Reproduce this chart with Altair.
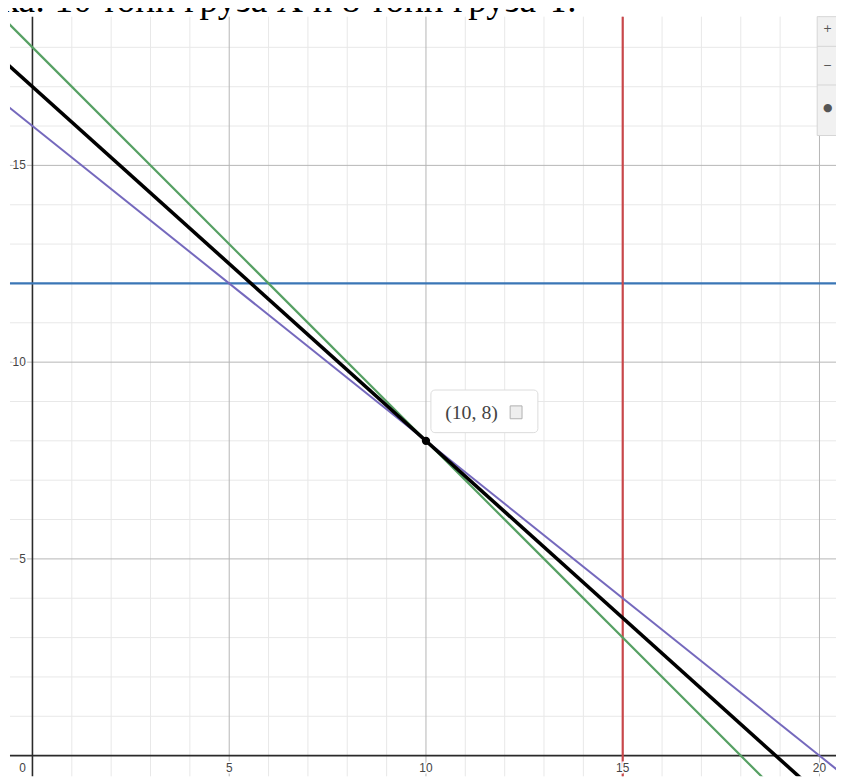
import altair as alt
import pandas as pd

# ---- data ----
minor_x = [1, 2, 3, 4, 6, 7, 8, 9, 11, 12, 13, 14, 16, 17, 18, 19]
minor_y = [1, 2, 3, 4, 6, 7, 8, 9, 11, 12, 13, 14, 16, 17, 18]
major_x = [5, 10, 15, 20]
major_y = [5, 10, 15]
x_tick_values = [0, 5, 10, 15, 20]
x_tick_labels = ["0", "5", "10", "15", "20"]
y_tick_values = [5, 10, 15]
y_tick_labels = ["5", "10", "15"]

line_names = ["green", "purple", "black"]
line_x_start = [-1, -1, -1]
line_y_start = [19.0, 16.8, 17.9]
line_x_end = [21, 21, 21]
line_y_end = [-3.0, -0.8, -1.9]
line_colors = ["#56a063", "#7569bd", "#000000"]
line_widths = [2.2, 2.0, 3.6]

hline_y = [12]
vline_x = [15]

point_x = [10]
point_y = [8]
point_label = ["(10, 8)"]

header_text = "ка: 10 тонн груза X и 8 тонн груза Y."

# ---- layout ----
XMIN, XMAX = -0.571, 20.42
YMIN, YMAX = -0.525, 18.78
W, H = 834, 767

xs = alt.Scale(domain=[XMIN, XMAX], nice=False, zero=False)
ys = alt.Scale(domain=[YMIN, YMAX], nice=False, zero=False)


def X(f):
    return alt.X(f, type="quantitative", scale=xs, axis=None)


def Y(f):
    return alt.Y(f, type="quantitative", scale=ys, axis=None)


layers = []

# grid
layers.append(alt.Chart(pd.DataFrame({"x": minor_x})).mark_rule(color="#e8e8e8", strokeWidth=1).encode(x=X("x")))
layers.append(alt.Chart(pd.DataFrame({"y": minor_y})).mark_rule(color="#e8e8e8", strokeWidth=1).encode(y=Y("y")))
layers.append(alt.Chart(pd.DataFrame({"x": major_x})).mark_rule(color="#b5b5b5", strokeWidth=1).encode(x=X("x")))
layers.append(alt.Chart(pd.DataFrame({"y": major_y})).mark_rule(color="#b5b5b5", strokeWidth=1).encode(y=Y("y")))
# axes
layers.append(alt.Chart(pd.DataFrame({"x": [0]})).mark_rule(color="#2a2a2a", strokeWidth=1.6).encode(x=X("x")))
layers.append(alt.Chart(pd.DataFrame({"y": [0]})).mark_rule(color="#2a2a2a", strokeWidth=1.6).encode(y=Y("y")))

# constraint lines
layers.append(alt.Chart(pd.DataFrame({"y": hline_y})).mark_rule(color="#3a76b6", strokeWidth=2.2).encode(y=Y("y")))
layers.append(alt.Chart(pd.DataFrame({"x": vline_x})).mark_rule(color="#c9474a", strokeWidth=2.2).encode(x=X("x")))

for name, xa, ya, xb, yb, col, sw in zip(line_names, line_x_start, line_y_start, line_x_end, line_y_end,
                                         line_colors, line_widths):
    df = pd.DataFrame({"x": [xa, xb], "y": [ya, yb]})
    layers.append(alt.Chart(df).mark_line(color=col, strokeWidth=sw, clip=True).encode(x=X("x"), y=Y("y")))

pts = pd.DataFrame({"x": point_x, "y": point_y, "label": point_label})
layers.append(alt.Chart(pts).mark_circle(color="#000000", size=70, opacity=1).encode(x=X("x"), y=Y("y")))

# label box
layers.append(alt.Chart(pts).mark_rect(fill="#ffffff", stroke="#dcdcdc", strokeWidth=1, cornerRadius=4).encode(
    x=alt.value(425), x2=alt.value(533), y=alt.value(377), y2=alt.value(420)))
layers.append(alt.Chart(pts).mark_text(font="Liberation Serif", fontSize=20, color="#444444", align="center",
                                       baseline="middle", dx=46, dy=-28).encode(x=X("x"), y=Y("y"), text="label:N"))
layers.append(alt.Chart(pts).mark_rect(fill="#eeeeee", stroke="#b0b0b0", strokeWidth=1).encode(
    x=alt.value(505), x2=alt.value(517), y=alt.value(393), y2=alt.value(406)))

# tick labels (white halo then text)
xt = pd.DataFrame({"x": x_tick_values, "t": x_tick_labels})
yt = pd.DataFrame({"y": y_tick_values, "t": y_tick_labels})
for stroke in (True, False):
    kw = dict(font="Liberation Sans", fontSize=12, align="center", baseline="middle")
    if stroke:
        kw.update(stroke="#ffffff", strokeWidth=3, color="#ffffff")
    else:
        kw.update(color="#444444")
    layers.append(alt.Chart(xt[xt.x != 0]).mark_text(**kw).encode(x=X("x"), y=alt.value(759), text="t:N"))
    layers.append(alt.Chart(xt[xt.x == 0]).mark_text(dx=-10, **kw).encode(x=X("x"), y=alt.value(759), text="t:N"))
    kw2 = dict(kw)
    kw2["align"] = "right"
    layers.append(alt.Chart(yt).mark_text(dx=-6, **kw2).encode(x=alt.value(22), y=Y("y"), text="t:N"))

# toolbar on the right
tb = pd.DataFrame({"a": [0]})
layers.append(alt.Chart(tb).mark_rect(fill="#f1f1f1", stroke="#d6d6d6", strokeWidth=1).encode(
    x=alt.value(815), x2=alt.value(836), y=alt.value(0), y2=alt.value(120)))
layers.append(alt.Chart(tb).mark_rule(color="#d6d6d6").encode(x=alt.value(815), x2=alt.value(836), y=alt.value(30)))
layers.append(alt.Chart(tb).mark_rule(color="#d6d6d6").encode(x=alt.value(815), x2=alt.value(836), y=alt.value(69)))
for txt, yy in (("+", 12), ("−", 50), ("●", 92)):
    layers.append(alt.Chart(pd.DataFrame({"t": [txt]})).mark_text(
        font="DejaVu Sans", fontSize=11, color="#555555", align="left", baseline="middle").encode(
        x=alt.value(821), y=alt.value(yy), text="t:N"))

# cut-off header sentence at the very top
layers.append(alt.Chart(pd.DataFrame({"t": [header_text]})).mark_text(
    font="Liberation Serif", fontSize=37.5, color="#000000", align="left", baseline="alphabetic").encode(
    x=alt.value(-9), y=alt.value(-5), text="t:N"))

chart = alt.layer(*layers).properties(
    width=W, height=H,
    padding={"left": 2, "top": 5, "right": 0, "bottom": 0},
    autosize=alt.AutoSizeParams(type="none"),
    background="#ffffff",
).configure_view(stroke=None)

chart.save("out.html", embed_options={"renderer": "svg", "actions": False})
